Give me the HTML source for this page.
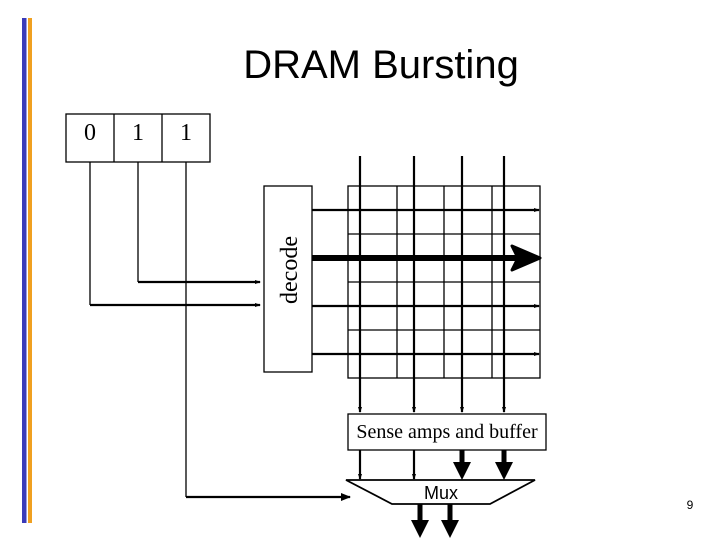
<!DOCTYPE html>
<html><head><meta charset="utf-8"><style>body{margin:0;background:#fff}svg{display:block}</style></head>
<body>
<svg width="720" height="540" viewBox="0 0 720 540" xmlns="http://www.w3.org/2000/svg">
<defs>
<marker id="sm" markerWidth="6" markerHeight="6" refX="5" refY="3" orient="auto" markerUnits="userSpaceOnUse"><path d="M0,1 L6,3 L0,5 Z" fill="#000"/></marker>
<marker id="sa" markerWidth="10" markerHeight="10" refX="9" refY="5" orient="auto" markerUnits="userSpaceOnUse"><path d="M0,1 L10,5 L0,9 Z" fill="#000"/></marker>
</defs>
<rect x="22" y="18" width="4.5" height="505" fill="#3a3ab8"/>
<rect x="28" y="18" width="4" height="505" fill="#f0a020"/>
<text x="381" y="78" font-family="Liberation Sans, sans-serif" font-size="40" text-anchor="middle">DRAM Bursting</text>
<g fill="none" stroke="#000" stroke-width="1.3">
<rect x="66" y="114" width="144" height="48"/>
<line x1="114" y1="114" x2="114" y2="162"/><line x1="162" y1="114" x2="162" y2="162"/>
<rect x="264" y="186" width="48" height="186"/>
<rect x="348" y="186" width="192" height="192"/>
<line x1="397" y1="186" x2="397" y2="378"/><line x1="444" y1="186" x2="444" y2="378"/><line x1="492" y1="186" x2="492" y2="378"/>
<line x1="348" y1="234" x2="540" y2="234"/><line x1="348" y1="282" x2="540" y2="282"/><line x1="348" y1="330" x2="540" y2="330"/>
<rect x="348" y="414" width="198" height="36"/>
<line x1="90" y1="162" x2="90" y2="305"/><line x1="138" y1="162" x2="138" y2="282"/><line x1="186" y1="162" x2="186" y2="497"/>
</g>
<g stroke="#000" stroke-width="2.2" fill="none">
<line x1="90" y1="305" x2="260" y2="305" marker-end="url(#sm)"/>
<line x1="138" y1="282" x2="260" y2="282" marker-end="url(#sm)"/>
<line x1="186" y1="497" x2="350" y2="497" marker-end="url(#sa)"/>
<line x1="312" y1="210" x2="539" y2="210" marker-end="url(#sm)"/>
<line x1="312" y1="306" x2="539" y2="306" marker-end="url(#sm)"/>
<line x1="312" y1="354" x2="539" y2="354" marker-end="url(#sm)"/>
<line x1="360" y1="156" x2="360" y2="412" marker-end="url(#sm)"/>
<line x1="414" y1="156" x2="414" y2="412" marker-end="url(#sm)"/>
<line x1="462" y1="156" x2="462" y2="412" marker-end="url(#sm)"/>
<line x1="504" y1="156" x2="504" y2="412" marker-end="url(#sm)"/>
<line x1="360" y1="450" x2="360" y2="479" marker-end="url(#sm)"/>
<line x1="414" y1="450" x2="414" y2="479" marker-end="url(#sm)"/>
</g>
<line x1="312" y1="258" x2="520" y2="258" stroke="#000" stroke-width="6"/>
<path d="M512,246 L540,258 L512,270 L518,258 Z" fill="#000" stroke="#000" stroke-width="3" stroke-linejoin="round"/>
<g stroke="#000" stroke-width="5">
<line x1="462" y1="450" x2="462" y2="466"/><line x1="504" y1="450" x2="504" y2="466"/>
<line x1="420" y1="504" x2="420" y2="524"/><line x1="450" y1="504" x2="450" y2="524"/>
</g>
<g fill="#000">
<path d="M453,462 L471,462 L462,480 Z"/><path d="M495,462 L513,462 L504,480 Z"/>
<path d="M411,520 L429,520 L420,538 Z"/><path d="M441,520 L459,520 L450,538 Z"/>
</g>
<path d="M346,480 L535,480 L490,504 L392,504 Z" fill="none" stroke="#000" stroke-width="1.8"/>
<g font-family="Liberation Serif, serif" font-size="24" text-anchor="middle">
<text x="90" y="140">0</text><text x="138" y="140">1</text><text x="186" y="140">1</text>
</g>
<text transform="translate(297,270) rotate(-90)" font-family="Liberation Serif, serif" font-size="24" text-anchor="middle">decode</text>
<text x="447" y="438" font-family="Liberation Serif, serif" font-size="20" text-anchor="middle">Sense amps and buffer</text>
<text x="441" y="499" font-family="Liberation Sans, sans-serif" font-size="18" text-anchor="middle">Mux</text>
<text x="690" y="509" font-family="Liberation Sans, sans-serif" font-size="12" text-anchor="middle">9</text>
</svg>
</body></html>
